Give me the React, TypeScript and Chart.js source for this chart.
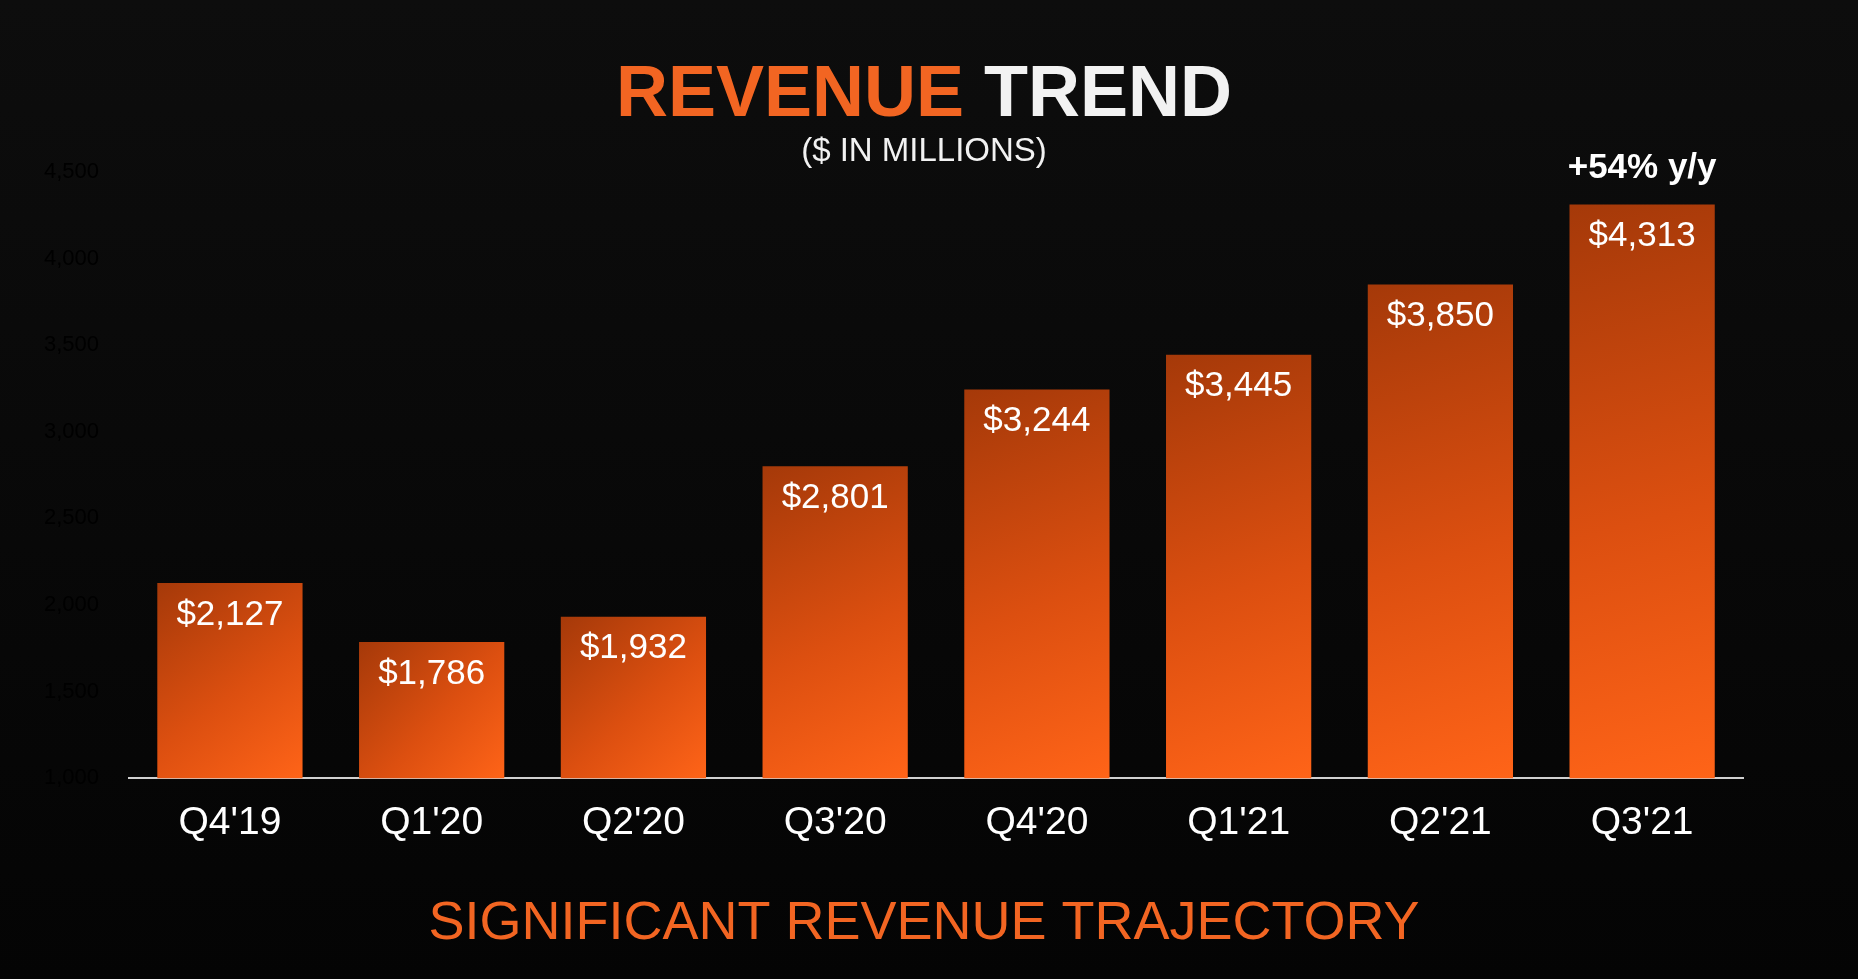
import React, { useEffect, useRef } from "react";
import { Chart, registerables } from "chart.js";
Chart.register(...registerables);

const categories = ["Q4'19", "Q1'20", "Q2'20", "Q3'20", "Q4'20", "Q1'21", "Q2'21", "Q3'21"];
const revenue = [2127, 1786, 1932, 2801, 3244, 3445, 3850, 4313];
const valueLabels = ["$2,127", "$1,786", "$1,932", "$2,801", "$3,244", "$3,445", "$3,850", "$4,313"];
const yTicks = [1000, 1500, 2000, 2500, 3000, 3500, 4000, 4500];

const FONT = "'Liberation Sans', Arial, sans-serif";

const overlay = {
  id: "overlay",
  afterDatasetsDraw(chart: any) {
    const ctx = chart.ctx;
    const meta = chart.getDatasetMeta(0);
    ctx.save();
    ctx.textAlign = "center";
    ctx.textBaseline = "middle";
    ctx.fillStyle = "#ffffff";
    ctx.font = `35px ${FONT}`;
    meta.data.forEach((bar: any, i: number) => {
      ctx.fillText(valueLabels[i], bar.x, bar.y + 32);
    });
    const last = meta.data[meta.data.length - 1];
    ctx.font = `bold 35px ${FONT}`;
    ctx.fillText("+54% y/y", last.x, last.y - 36);
    const cx = 924;
    ctx.font = `bold 72px ${FONT}`;
    const w1 = ctx.measureText("REVENUE ").width;
    const w2 = ctx.measureText("TREND").width;
    const sx = cx - (w1 + w2) / 2;
    ctx.textAlign = "left";
    ctx.fillStyle = "#f26522";
    ctx.fillText("REVENUE ", sx, 96);
    ctx.fillStyle = "#f2f2f2";
    ctx.fillText("TREND", sx + w1, 96);
    ctx.textAlign = "center";
    ctx.font = `33px ${FONT}`;
    ctx.fillText("($ IN MILLIONS)", cx, 152);
    ctx.fillStyle = "#f26522";
    ctx.font = `54px ${FONT}`;
    ctx.fillText("SIGNIFICANT REVENUE TRAJECTORY", 924, 924);
    ctx.restore();
  },
};

export default function App() {
  const ref = useRef<HTMLCanvasElement>(null);
  useEffect(() => {
    document.body.style.margin = "0";
    document.body.style.background = "#080808";
    const chart = new Chart(ref.current!, {
      type: "bar",
      data: {
        labels: categories,
        datasets: [
          {
            data: revenue,
            barPercentage: 0.72,
            categoryPercentage: 1,
            backgroundColor: (c: any) => {
              const ch = c.chart;
              const sx = ch.scales && ch.scales.x, sy = ch.scales && ch.scales.y;
              if (!sx || !sy || c.dataIndex === undefined) return "#e0500f";
              const x = sx.getPixelForValue(c.dataIndex);
              const top = sy.getPixelForValue(revenue[c.dataIndex]);
              const bot = sy.getPixelForValue(1000);
              const hw = 74;
              if (![x, top, bot].every((v) => Number.isFinite(v)) || bot - top < 1) return "#e0500f";
              const g = ch.ctx.createLinearGradient(x - hw, top, x + hw, bot);
              g.addColorStop(0, "#a53909");
              g.addColorStop(0.55, "#dc4f10");
              g.addColorStop(1, "#ff6418");
              return g;
            },
          },
        ],
      },
      options: {
        animation: false,
        responsive: false,
        layout: { padding: { left: 22, right: 115, top: 172, bottom: 118 } },
        plugins: { legend: { display: false }, tooltip: { enabled: false } },
        scales: {
          x: {
            grid: { display: false },
            border: { color: "#d0d0d0", width: 2 },
            ticks: { color: "#ffffff", font: { size: 39, family: FONT }, padding: 14 },
          },
          y: {
            min: 1000,
            max: 4500,
            afterBuildTicks: (s: any) => { s.ticks = yTicks.map((v) => ({ value: v })); },
            grid: { display: false },
            border: { display: false },
            ticks: { color: "#000000", font: { size: 22, family: FONT }, padding: 22 },
          },
        },
      },
      plugins: [overlay],
    });
    chart.update();
    return () => chart.destroy();
  }, []);
  return (
    <div style={{ width: 1858, height: 979, background: "linear-gradient(#0d0d0d, #040404)" }}>
      <canvas ref={ref} width={1858} height={979} style={{ display: "block" }} />
    </div>
  );
}
